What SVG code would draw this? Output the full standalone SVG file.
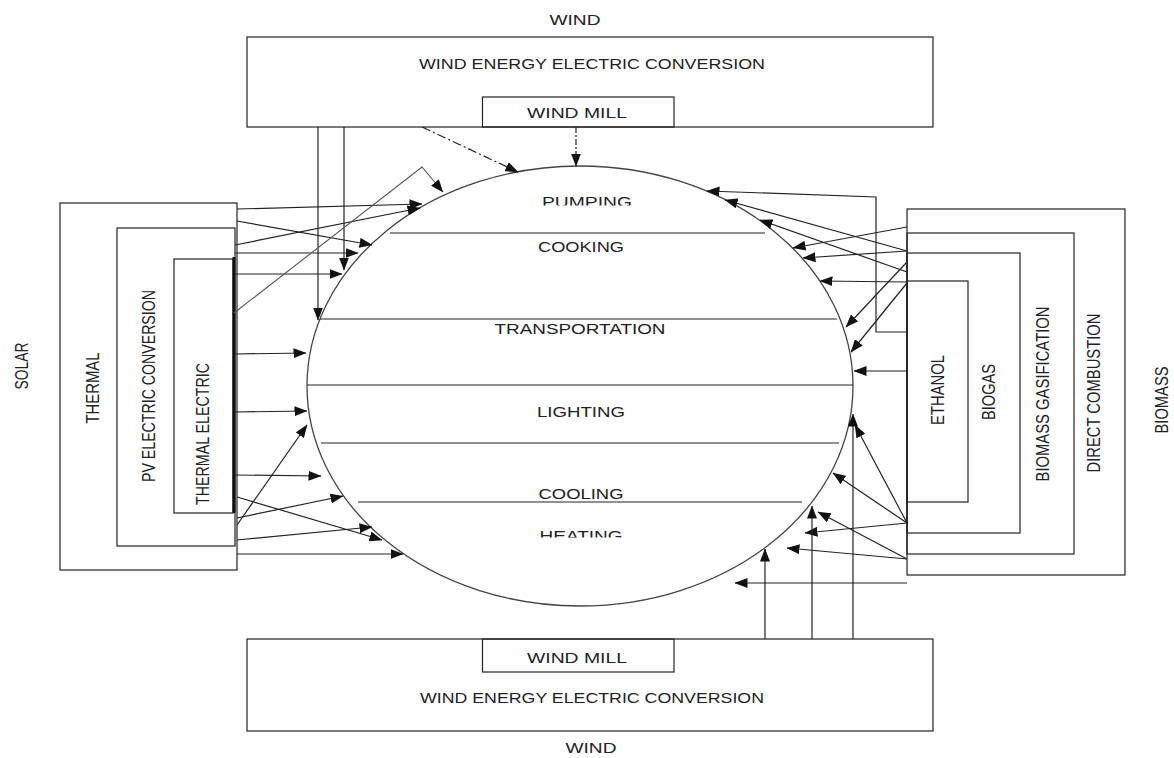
<svg xmlns="http://www.w3.org/2000/svg" width="1174" height="758" viewBox="0 0 1174 758">
<style>
.box{fill:none;stroke:#222;stroke-width:1.2}
.t{font-family:"Liberation Sans",Arial,sans-serif;font-size:15px;fill:#222;text-anchor:middle}
.v{font-family:"Liberation Sans",Arial,sans-serif;font-size:14.5px;fill:#222;text-anchor:middle}
.c{fill:none;stroke:#222;stroke-width:1.2;marker-end:url(#ah)}
.g{fill:none;stroke:#555;stroke-width:1.1}
.sep{fill:none;stroke:#222;stroke-width:1.1}
</style>
<defs>
<marker id="ah" viewBox="0 0 13 10" refX="12.5" refY="5" markerWidth="13" markerHeight="10" markerUnits="userSpaceOnUse" orient="auto">
<path d="M0,0 L13,5 L0,10 z" fill="#111"/>
</marker>
<clipPath id="clipP"><rect x="500" y="185" width="180" height="20.5"/></clipPath>
<clipPath id="clipH"><rect x="500" y="520" width="180" height="17.5"/></clipPath>
</defs>
<rect width="1174" height="758" fill="#fff"/>

<g id="wind-top">
<text class="t" x="575" y="25.4" textLength="51" lengthAdjust="spacingAndGlyphs">WIND</text>
<rect class="box" x="247" y="37" width="686" height="90"/>
<text class="t" x="592" y="69.4" textLength="346" lengthAdjust="spacingAndGlyphs">WIND ENERGY ELECTRIC CONVERSION</text>
<g id="windmill-top">
<rect class="box" x="482.5" y="97" width="191.5" height="30"/>
<text class="t" x="577" y="118.4" textLength="100" lengthAdjust="spacingAndGlyphs">WIND MILL</text>
</g>
</g>

<g id="wind-bottom">
<rect class="box" x="247" y="639" width="686" height="92"/>
<g id="windmill-bottom">
<rect class="box" x="482.5" y="639" width="191.5" height="33"/>
<text class="t" x="577" y="663.4" textLength="100" lengthAdjust="spacingAndGlyphs">WIND MILL</text>
</g>
<text class="t" x="592" y="703.4" textLength="344" lengthAdjust="spacingAndGlyphs">WIND ENERGY ELECTRIC CONVERSION</text>
<text class="t" x="591" y="753.4" textLength="51" lengthAdjust="spacingAndGlyphs">WIND</text>
</g>

<g id="solar">
<text class="v" transform="translate(27.5,366) scale(1.25,1) rotate(-90)" textLength="47" lengthAdjust="spacingAndGlyphs">SOLAR</text>
<g id="thermal">
<rect class="box" x="60" y="203" width="177" height="367"/>
<text class="v" transform="translate(99,388) scale(1.25,1) rotate(-90)" textLength="71" lengthAdjust="spacingAndGlyphs">THERMAL</text>
</g>
<g id="pv">
<rect class="box" x="117" y="228" width="118" height="318"/>
<text class="v" transform="translate(154.5,386) scale(1.25,1) rotate(-90)" textLength="192" lengthAdjust="spacingAndGlyphs">PV ELECTRIC CONVERSION</text>
</g>
<g id="thermal-electric">
<rect class="box" x="174" y="259" width="59" height="254"/>
<line x1="234" y1="257" x2="234" y2="513" stroke="#111" stroke-width="3"/>
<text class="v" transform="translate(208.5,434) scale(1.25,1) rotate(-90)" textLength="142" lengthAdjust="spacingAndGlyphs">THERMAL ELECTRIC</text>
</g>
</g>

<g id="biomass">
<text class="v" transform="translate(1167.5,400) scale(1.25,1) rotate(-90)" textLength="67" lengthAdjust="spacingAndGlyphs">BIOMASS</text>
<g id="direct-combustion">
<rect class="box" x="907" y="209" width="218" height="366"/>
<text class="v" transform="translate(1099.5,393) scale(1.25,1) rotate(-90)" textLength="159" lengthAdjust="spacingAndGlyphs">DIRECT COMBUSTION</text>
</g>
<g id="gasification">
<rect class="box" x="907" y="233" width="167" height="321"/>
<text class="v" transform="translate(1048.5,394) scale(1.25,1) rotate(-90)" textLength="175" lengthAdjust="spacingAndGlyphs">BIOMASS GASIFICATION</text>
</g>
<g id="biogas">
<rect class="box" x="907" y="253" width="113" height="280"/>
<text class="v" transform="translate(994.5,392) scale(1.25,1) rotate(-90)" textLength="56" lengthAdjust="spacingAndGlyphs">BIOGAS</text>
</g>
<g id="ethanol">
<rect class="box" x="907" y="281" width="61" height="221"/>
<text class="v" transform="translate(943.5,390) scale(1.25,1) rotate(-90)" textLength="70" lengthAdjust="spacingAndGlyphs">ETHANOL</text>
</g>
</g>

<g id="uses">
<ellipse cx="580" cy="386" rx="273" ry="220" fill="none" stroke="#444" stroke-width="1.3"/>
<line class="sep" x1="390" y1="233" x2="765" y2="233"/>
<line class="sep" x1="320" y1="319" x2="837" y2="319"/>
<line class="sep" x1="307" y1="385" x2="853" y2="385"/>
<line class="sep" x1="321" y1="443" x2="839" y2="443"/>
<line class="sep" x1="358" y1="502" x2="802" y2="502"/>
<text class="t" x="587" y="206.5" textLength="90" lengthAdjust="spacingAndGlyphs" clip-path="url(#clipP)">PUMPING</text>
<text class="t" x="581" y="252" textLength="86" lengthAdjust="spacingAndGlyphs">COOKING</text>
<text class="t" x="580" y="334" textLength="171" lengthAdjust="spacingAndGlyphs">TRANSPORTATION</text>
<text class="t" x="581" y="417" textLength="88" lengthAdjust="spacingAndGlyphs">LIGHTING</text>
<text class="t" x="581" y="498.5" textLength="85" lengthAdjust="spacingAndGlyphs">COOLING</text>
<text class="t" x="581" y="541" textLength="83" lengthAdjust="spacingAndGlyphs" clip-path="url(#clipH)">HEATING</text>
</g>

<g id="connectors">
<!-- from top wind -->
<path class="c" d="M318,127 V320"/>
<path class="c" d="M344,127 V270"/>
<path class="c" d="M422,127 L518,172" stroke-dasharray="9,3,2,3"/>
<path class="c" d="M576,127 V166" stroke-dasharray="6,2,2,2"/>
<!-- from solar -->
<path class="c" d="M237,209 L422,204"/>
<path class="c" d="M237,221 L372,245"/>
<path class="c" d="M235,245 L420,208"/>
<path class="c" d="M235,253 L358,253"/>
<path class="c" d="M235,274 L342,274"/>
<path class="g" d="M234,313 L422,167 L443,192" marker-end="url(#ah)"/>
<path class="c" d="M235,354 L306,353"/>
<path class="c" d="M235,412 L307,411"/>
<path class="c" d="M235,475 L321,476"/>
<path class="c" d="M237,525 L307,425"/>
<path class="c" d="M237,518 L343,496"/>
<path class="c" d="M237,497 L382,540"/>
<path class="c" d="M237,540 L372,527"/>
<path class="c" d="M237,554 L403,554"/>
<!-- from biomass -->
<path class="c" d="M907,332 H876 V197 L707,191"/>
<path class="c" d="M907,227 L793,248"/>
<path class="c" d="M907,251 L803,258"/>
<path class="c" d="M907,251 L725,200"/>
<path class="c" d="M907,272 L760,220"/>
<path class="c" d="M907,262 L846,327"/>
<path class="c" d="M907,282 L820,281"/>
<path class="c" d="M907,283 L851,352"/>
<path class="c" d="M907,371 L854,371"/>
<path class="c" d="M907,523 L855,425"/>
<path class="c" d="M907,523 L833,473"/>
<path class="c" d="M907,523 L805,533"/>
<path class="c" d="M907,559 L818,512"/>
<path class="c" d="M907,559 L787,548"/>
<path class="c" d="M907,583 L735,583"/>
<!-- from bottom wind -->
<path class="c" d="M765,639 V549"/>
<path class="c" d="M812,639 V506"/>
<path class="c" d="M853,639 V414"/>
</g>
</svg>
